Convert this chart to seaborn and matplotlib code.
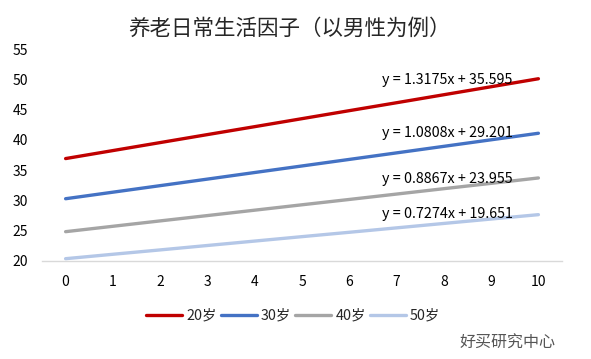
import pandas as pd
import seaborn as sns
import matplotlib.pyplot as plt

# 数据
x_labels = list(range(11))
age_20 = [36.91, 38.23, 39.55, 40.87, 42.18, 43.50, 44.82, 46.13, 47.45, 48.77, 50.09]
age_30 = [30.28, 31.36, 32.44, 33.52, 34.61, 35.69, 36.77, 37.85, 38.93, 40.01, 41.09]
age_40 = [24.84, 25.73, 26.62, 27.50, 28.39, 29.28, 30.16, 31.05, 31.94, 32.82, 33.71]
age_50 = [20.38, 21.11, 21.83, 22.56, 23.29, 24.02, 24.74, 25.47, 26.20, 26.93, 27.65]
series_names = ['20岁', '30岁', '40岁', '50岁']
equations = ['y = 1.3175x + 35.595', 'y = 1.0808x + 29.201',
             'y = 0.8867x + 23.955', 'y = 0.7274x + 19.651']
label_y = [49.8, 41.2, 33.6, 27.7]

sns.set_theme(style='white')
plt.rcParams['font.family'] = ['Noto Sans CJK SC', 'DejaVu Sans']
plt.rcParams['axes.unicode_minus'] = False

df = pd.DataFrame({
    'x': x_labels * 4,
    'value': age_20 + age_30 + age_40 + age_50,
    'series': [n for n in series_names for _ in x_labels],
})

colors = ['#C00000', '#4472C4', '#A5A5A5', '#B4C7E7']

fig = plt.figure(figsize=(5.91, 3.59), dpi=100)
ax = fig.add_axes([0.071, 0.273, 0.880, 0.5905])

sns.lineplot(data=df, x='x', y='value', hue='series', hue_order=series_names,
             palette=colors, linewidth=2.4, ax=ax, legend=True)

# 趋势线公式
for eq, ly in zip(equations, label_y):
    ax.text(9.45, ly, eq, ha='right', va='center', fontsize=10.3, color='#000000')

ax.set_xlim(-0.5, 10.5)
ax.set_ylim(20, 55)
ax.set_xticks(x_labels)
ax.set_yticks(range(20, 56, 5))
ax.tick_params(axis='both', labelsize=10, length=0, colors='#000000')
ax.tick_params(axis='y', pad=10)
ax.tick_params(axis='x', pad=10)
ax.set_xlabel('')
ax.set_ylabel('')
for s in ['left', 'right', 'top']:
    ax.spines[s].set_visible(False)
ax.spines['bottom'].set_color('#D9D9D9')
ax.spines['bottom'].set_linewidth(1)

fig.suptitle('养老日常生活因子（以男性为例）', x=0.49, y=0.95, fontsize=15.5)

handles, labels = ax.get_legend_handles_labels()
ax.legend(handles, labels, loc='center', bbox_to_anchor=(0.496, 0.12),
          bbox_transform=fig.transFigure, ncol=4, frameon=False, fontsize=10.3,
          handlelength=2.5, handletextpad=0.3, columnspacing=0.3)

fig.text(0.778, 0.03, '好买研究中心', fontsize=11.5, color='#555555', style='italic')

fig.savefig('out.png', dpi=100)
